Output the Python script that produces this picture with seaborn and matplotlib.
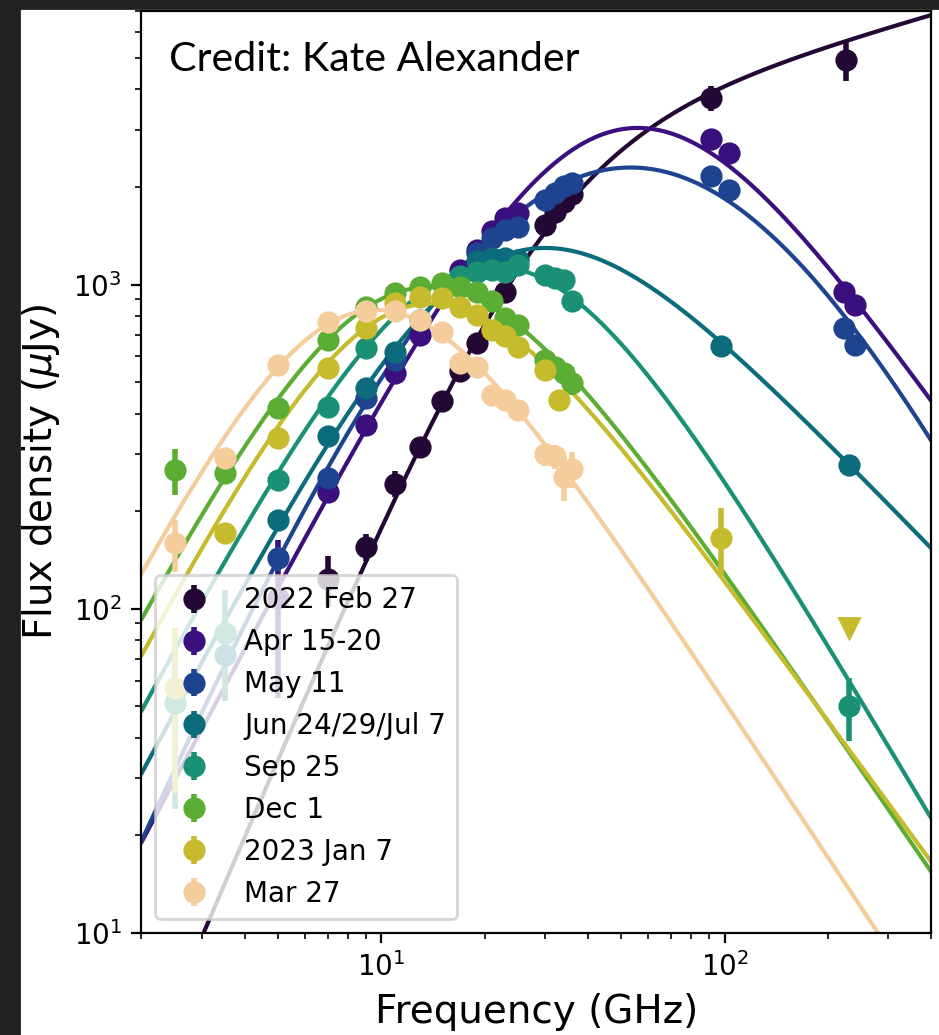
import numpy as np
import matplotlib
matplotlib.use("Agg")
import matplotlib.pyplot as plt
from matplotlib.patches import Rectangle
import seaborn as sns

labels = ["2022 Feb 27", "Apr 15-20", "May 11", "Jun 24/29/Jul 7",
          "Sep 25", "Dec 1", "2023 Jan 7", "Mar 27"]
colors = ["#230734", "#3b0f7d", "#1e4490", "#0c6c7c",
          "#1a9174", "#5bae33", "#c5bb2c", "#f5cc9c"]

# measured flux densities (GHz, uJy, 1-sigma)
feb_nu = [7, 9, 11, 13, 15, 17, 19, 23, 30, 32, 34, 36, 91, 225]
feb_f = [123, 155, 243, 316, 436, 540, 659, 951, 1530, 1680, 1800, 1900, 3770, 4940]
feb_e = [22, 15, 22, 12, 12, 15, 18, 25, 35, 35, 35, 40, 330, 700]

apr_nu = [5, 7, 9, 11, 13, 17, 19, 21, 23, 25, 91, 103, 223, 240]
apr_f = [108, 229, 369, 533, 700, 1110, 1282, 1459, 1603, 1660, 2810, 2548, 951, 865]
apr_e = [55, 8, 10, 12, 15, 25, 25, 25, 30, 30, 60, 60, 30, 30]

may_nu = [5, 7, 9, 11, 19, 21, 23, 25, 30, 32, 34, 36, 91, 103, 223, 240]
may_f = [143, 253, 446, 585, 1250, 1390, 1475, 1510, 1824, 1914, 2009, 2055, 2165, 1960, 733, 652]
may_e = [12, 8, 10, 12, 25, 25, 25, 25, 35, 35, 35, 35, 50, 50, 25, 25]

jun_nu = [3.5, 5, 7, 9, 11, 19, 21, 23, 25, 97.5, 230]
jun_f = [72, 188, 340, 479, 621, 1180, 1205, 1206, 1190, 647, 277]
jun_e = [20, 12, 10, 12, 15, 25, 25, 25, 25, 20, 15]

sep_nu = [2.5, 3.5, 5, 7, 9, 13, 17, 19, 21, 23, 25, 30, 32, 34, 36, 230]
sep_f = [51, 84, 250, 420, 636, 780, 1059, 1097, 1110, 1097, 1150, 1071, 1048, 1032, 887, 50]
sep_e = [27, 30, 10, 10, 12, 15, 20, 20, 20, 20, 20, 25, 25, 25, 25, 11]

dec_nu = [2.5, 3.5, 5, 7, 9, 11, 13, 15, 17, 19, 21, 23, 25, 30, 32, 34, 36]
dec_f = [268, 262, 416, 675, 855, 940, 986, 1009, 986, 951, 887, 788, 751, 586, 558, 534, 497]
dec_e = [43, 12, 10, 12, 15, 15, 15, 15, 15, 15, 15, 15, 15, 20, 20, 25, 40]

jan_nu = [2.5, 3.5, 5, 7, 9, 11, 13, 15, 17, 19, 21, 23, 25, 30, 33, 97.5]
jan_f = [57, 171, 336, 552, 733, 877, 918, 908, 855, 806, 724, 692, 644, 546, 441, 165]
jan_e = [30, 12, 10, 10, 12, 15, 15, 15, 15, 15, 15, 15, 15, 20, 15, 39]
jan_lim_nu = [230]
jan_lim_f = [87]

mar_nu = [2.5, 3.5, 5, 7, 9, 11, 13, 15, 17, 19, 21, 23, 25, 30, 32, 34, 36]
mar_f = [159, 291, 565, 769, 826, 826, 778, 716, 571, 558, 457, 441, 410, 300, 295, 255, 270]
mar_e = [29, 15, 12, 12, 15, 15, 15, 15, 15, 15, 15, 15, 20, 25, 25, 40, 35]

# smoothly broken power-law fits: break frequency (GHz), break flux (uJy),
# optically thick index, optically thin index, smoothing
break_nu = [30.2, 47.9, 45.7, 21.9, 20.0, 12.0, 12.0, 8.7]
break_f = [3148, 10934, 58718, 3774, 5000, 3540, 2672, 2580]
thick_index = [2.5, 2.0, 2.5, 2.0, 2.0, 2.0, 2.0, 2.0]
thin_index = [0.30, -1.50, -2.15, -1.10, -1.80, -1.55, -1.45, -1.60]
smooth = [0.904, 0.534, 0.213, 0.609, 0.468, 0.534, 0.609, 0.609]

data = [(feb_nu, feb_f, feb_e), (apr_nu, apr_f, apr_e), (may_nu, may_f, may_e),
        (jun_nu, jun_f, jun_e), (sep_nu, sep_f, sep_e), (dec_nu, dec_f, dec_e),
        (jan_nu, jan_f, jan_e), (mar_nu, mar_f, mar_e)]


def spectrum(nu, nu_b, f_b, a1, a2, s):
    x = np.asarray(nu) / nu_b
    return f_b * (x ** (-s * a1) + x ** (-s * a2)) ** (-1.0 / s)


sns.set_style("ticks")
plt.rcParams.update({
    "font.family": ["DejaVu Sans"],
    "text.color": "black", "axes.labelcolor": "black",
    "xtick.color": "black", "ytick.color": "black",
    "xtick.direction": "out", "ytick.direction": "out",
    "axes.linewidth": 0.8, "axes.edgecolor": "black",
})

fig = plt.figure(figsize=(939 / 200, 1035 / 200), dpi=200, facecolor="white")
ax = fig.add_axes([141.3 / 939, 1 - 932.7 / 1035, 790 / 939, 922 / 1035])
ax.set_xscale("log")
ax.set_yscale("log")

grid = np.logspace(np.log10(2), np.log10(400), 500)
for i, ((nu, f, e), lab, col) in enumerate(zip(data, labels, colors)):
    ax.errorbar(nu, f, yerr=e, fmt="o", ms=7, color=col, elinewidth=2,
                capsize=0, label=lab, zorder=3)
    model = spectrum(grid, break_nu[i], break_f[i], thick_index[i],
                     thin_index[i], smooth[i])
    sns.lineplot(x=grid, y=model, color=col, lw=1.5, ax=ax,
                 legend=False, zorder=2)

ax.plot(jan_lim_nu, jan_lim_f, "v", ms=7, color=colors[6], zorder=3)

ax.set_xlim(2, 400)
ax.set_ylim(10, 7000)
ax.set_xlabel("Frequency (GHz)", fontsize=14)
ax.set_ylabel(r"Flux density ($\mu$Jy)", fontsize=14)
ax.tick_params(labelsize=10)
ax.legend(loc="lower left", fontsize=10)

ax.text(0.035, 0.935, "Credit: Kate Alexander", transform=ax.transAxes,
        fontsize=14.8, family="Lato", color="black", va="baseline", ha="left")

fig.add_artist(Rectangle((0, 0), 19 / 939, 1, transform=fig.transFigure,
                         color="#212121", zorder=10))
fig.add_artist(Rectangle((0, 1 - 8 / 1035), 1, 8 / 1035, transform=fig.transFigure,
                         color="#212121", zorder=10))

fig.savefig("out.png", dpi=200, facecolor="white")
